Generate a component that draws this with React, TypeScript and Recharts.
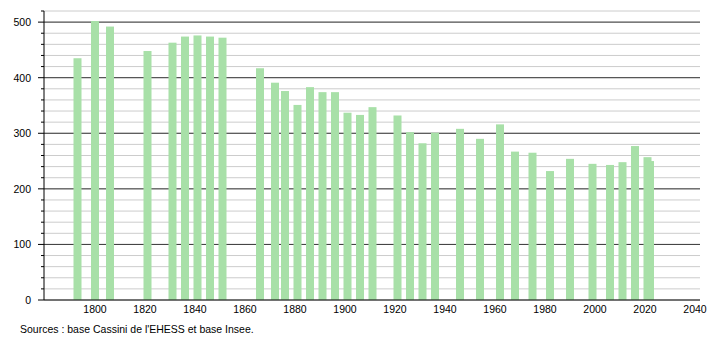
import { BarChart, Bar, XAxis, YAxis, CartesianGrid } from "recharts";

const years = [
  1793, 1800, 1806, 1821, 1831, 1836, 1841, 1846, 1851, 1866, 1872, 1876, 1881, 1886, 1891, 1896, 1901, 1906,
  1911, 1921, 1926, 1931, 1936, 1946, 1954, 1962, 1968, 1975, 1982, 1990, 1999, 2006, 2011, 2016, 2021, 2022,
];
const population = [
  435, 502, 492, 448, 463, 474, 476, 474, 472, 417, 391, 376, 351, 383, 374, 374, 337, 333,
  347, 332, 302, 282, 301, 308, 290, 316, 267, 265, 232, 254, 245, 243, 248, 277, 257, 250,
];
const xTicks = [1800, 1820, 1840, 1860, 1880, 1900, 1920, 1940, 1960, 1980, 2000, 2020, 2040];
const yTicks = [0, 20, 40, 60, 80, 100, 120, 140, 160, 180, 200, 220, 240, 260, 280, 300, 320, 340, 360, 380, 400, 420, 440, 460, 480, 500, 520];
const yMajor = [100, 200, 300, 400, 500];
const yMax = 520;

const data = years.map((year, i) => ({ year, value: population[i] }));

const font = '"Liberation Sans", Arial, sans-serif';
const barColor = "#a8e0a8";

// fixed-width bar centred on the year (numeric axis squeezes the band otherwise)
const CensusBar = (props: any) => {
  const { x, y, width, height } = props;
  const cx = x + width / 2;
  return <rect x={cx - 4} y={y} width={8} height={height} fill={barColor} />;
};

const YTick = (props: any) => {
  const { x, y, payload } = props;
  const major = payload.value % 100 === 0;
  return (
    <g>
      <line x1={x - (major ? 6 : 3)} x2={x} y1={y} y2={y} stroke="#000" />
      {major && (
        <text x={x - 13} y={y + 4} textAnchor="end" fontSize={10.5} fontFamily={font} fill="#000">
          {payload.value}
        </text>
      )}
    </g>
  );
};

const XTick = (props: any) => {
  const { x, y, payload } = props;
  return (
    <text x={x} y={y + 13} textAnchor="middle" fontSize={10.5} fontFamily={font} fill="#000">
      {payload.value}
    </text>
  );
};

// dark lines every 100 on top of the light 20-step grid
const majorLines = ({ offset }: any) => yMajor.map((v) => offset.top + offset.height * (1 - v / yMax));

export default function App() {
  return (
    <div style={{ position: "absolute", left: 0, top: 0, width: 710, height: 340, background: "#fff" }}>
      <BarChart width={710} height={340} data={data} margin={{ top: 11, right: 10, left: 0, bottom: 0 }}>
        <CartesianGrid vertical={false} stroke="#cccccc" />
        <CartesianGrid vertical={false} stroke="#3a3a3a" horizontalCoordinatesGenerator={majorLines} />
        <XAxis
          dataKey="year"
          type="number"
          domain={[1779.6, 2042]}
          ticks={xTicks}
          tickLine={false}
          tickSize={0}
          tickMargin={0}
          height={40}
          axisLine={{ stroke: "#000" }}
          tick={<XTick />}
          interval={0}
        />
        <YAxis
          domain={[0, yMax]}
          ticks={yTicks}
          width={44}
          tickLine={false}
          tickSize={0}
          tickMargin={0}
          axisLine={{ stroke: "#000" }}
          tick={<YTick />}
          interval={0}
        />
        <Bar dataKey="value" shape={<CensusBar />} isAnimationActive={false} />
      </BarChart>
      <div
        style={{
          position: "absolute",
          left: 20,
          top: 323,
          fontSize: 10.5,
          lineHeight: "12px",
          fontFamily: font,
          color: "#000",
          whiteSpace: "nowrap",
        }}
      >
        Sources : base Cassini de l'EHESS et base Insee.
      </div>
    </div>
  );
}
